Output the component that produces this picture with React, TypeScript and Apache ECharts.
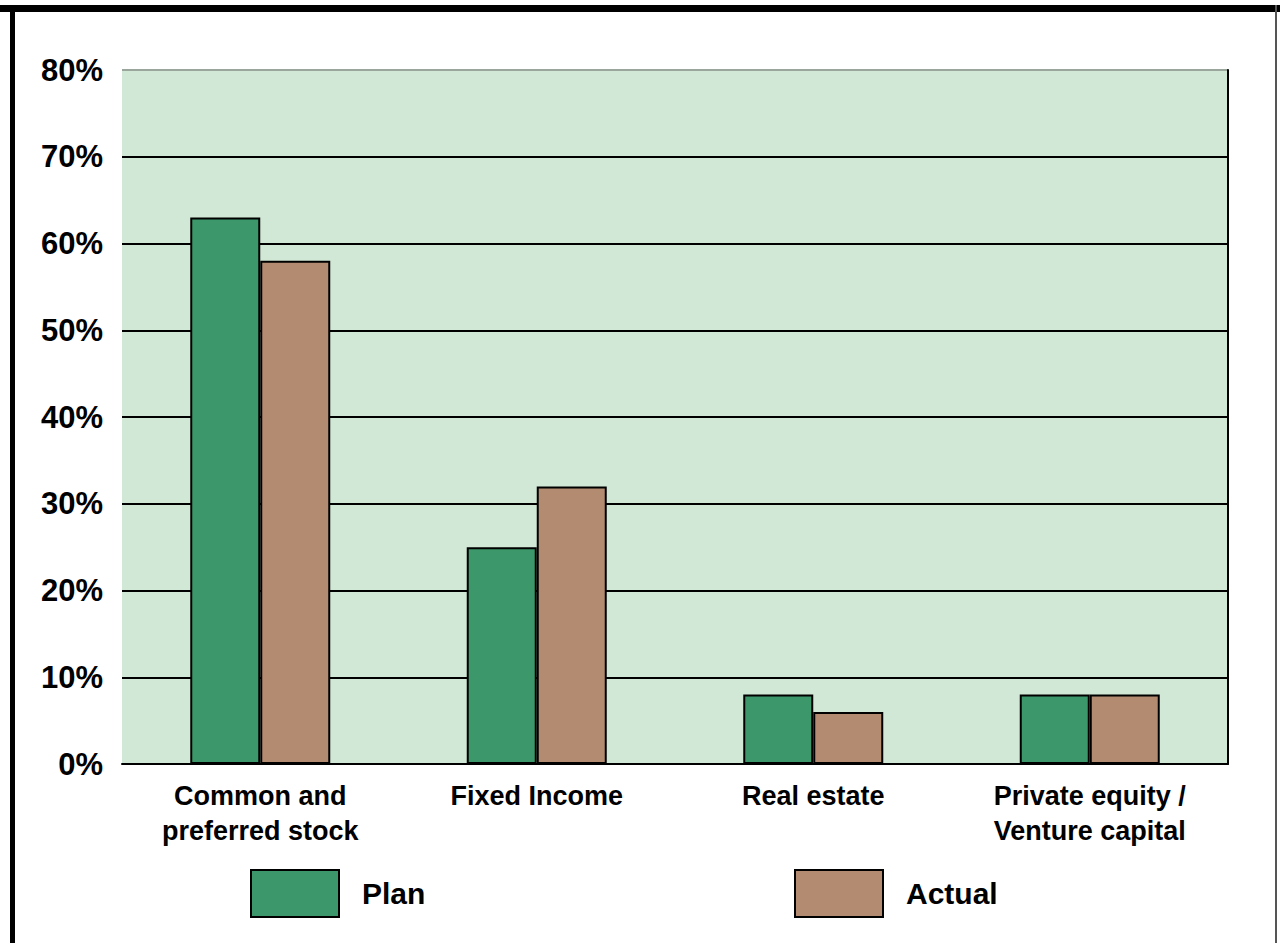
import React, { useEffect, useRef } from "react";
import * as echarts from "echarts";

const categories = ["Common and\npreferred stock", "Fixed Income", "Real estate", "Private equity /\nVenture capital"];
const planValues = [63, 25, 8, 8];
const actualValues = [58, 32, 6, 8];
const seriesNames = ["Plan", "Actual"];

const FONT = "'Liberation Sans', Arial, sans-serif";

export default function App() {
  const ref = useRef<HTMLDivElement>(null);
  useEffect(() => {
    if (!ref.current) return;
    const chart = echarts.init(ref.current, undefined, { renderer: "svg" });
    const legendBase = {
      orient: "horizontal",
      padding: 0,
      itemWidth: 88,
      itemHeight: 47,
      icon: "rect",
      selectedMode: false,
      textStyle: {
        fontFamily: FONT,
        fontSize: 30,
        fontWeight: "bold",
        color: "#000",
        padding: [0, 0, 0, 18],
      },
    };
    chart.setOption({
      animation: false,
      backgroundColor: "#ffffff",
      textStyle: { fontFamily: FONT },
      grid: {
        left: 122,
        right: 52,
        top: 70,
        bottom: 179,
        show: true,
        backgroundColor: "#d2e8d7",
        borderWidth: 0,
      },
      legend: [
        { ...legendBase, data: [seriesNames[0]], left: 250, top: 869 },
        { ...legendBase, data: [seriesNames[1]], left: 794, top: 869 },
      ],
      xAxis: {
        type: "category",
        data: categories,
        axisLine: { show: true, lineStyle: { color: "#000", width: 2 } },
        axisTick: { show: false },
        axisLabel: {
          fontFamily: FONT,
          fontSize: 27,
          fontWeight: "bold",
          color: "#000",
          lineHeight: 35,
          margin: 14,
          interval: 0,
        },
      },
      yAxis: [
        {
          type: "value",
          min: 0,
          max: 80,
          interval: 10,
          axisLine: { show: false },
          axisTick: { show: false },
          axisLabel: {
            formatter: "{value}%",
            fontFamily: FONT,
            fontSize: 31,
            fontWeight: "bold",
            color: "#000",
            margin: 19,
          },
          splitLine: {
            show: true,
            lineStyle: {
              color: ["#000", "#000", "#000", "#000", "#000", "#000", "#000", "#000", "#9aa59c"],
              width: 2,
            },
          },
        },
        {
          type: "value",
          position: "right",
          min: 0,
          max: 80,
          interval: 10,
          axisLine: { show: true, lineStyle: { color: "#000", width: 2 } },
          axisTick: { show: false },
          axisLabel: { show: false },
          splitLine: { show: false },
        },
      ],
      series: [
        {
          name: seriesNames[0],
          type: "bar",
          data: planValues,
          barWidth: 70,
          barGap: "0%",
          itemStyle: { color: "#3c976a", borderColor: "#000", borderWidth: 2 },
        },
        {
          name: seriesNames[1],
          type: "bar",
          data: actualValues,
          barWidth: 70,
          barGap: "0%",
          itemStyle: { color: "#b38b71", borderColor: "#000", borderWidth: 2 },
        },
      ],
      graphic: [
        { type: "rect", left: 0, top: 5, shape: { width: 1280, height: 7 }, style: { fill: "#000" }, silent: true },
        { type: "rect", left: 10, top: 5, shape: { width: 5, height: 938 }, style: { fill: "#000" }, silent: true },
        { type: "rect", left: 1275, top: 5, shape: { width: 2, height: 938 }, style: { fill: "#555" }, silent: true },
      ],
    });
    return () => chart.dispose();
  }, []);
  return (
    <div
      ref={ref}
      style={{ position: "fixed", left: 0, top: 0, width: 1280, height: 943 }}
    />
  );
}
